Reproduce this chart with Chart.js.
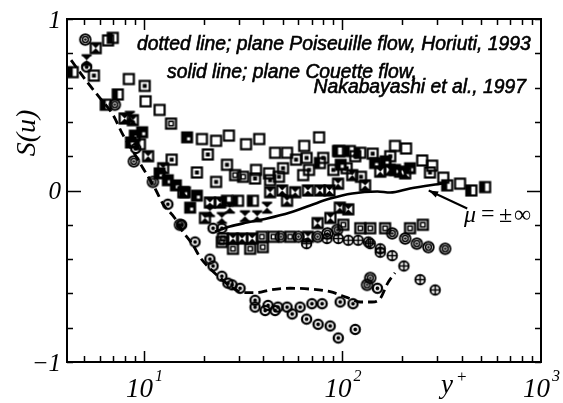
<!DOCTYPE html>
<html>
<head>
<meta charset="utf-8">
<script src="https://cdn.jsdelivr.net/npm/chart.js@4"></script>
<style>
  html, body { margin: 0; padding: 0; background: #fff; }
  #c { display: block; }
</style>
</head>
<body>
<canvas id="c" width="563" height="403"></canvas>
<script>
// Skewness S(u) against y+ for several rotation numbers, plus two reference DNS curves.

// Reference curves
const poiseuilleX = [4.3, 5.2, 6.0, 7.0, 7.8, 8.8, 9.9, 11.4, 12.5, 14.3, 15.5, 17.7, 19.2, 21.5, 24.2, 27.8, 31.6, 37.2, 43.2, 54.5, 68.8, 86.7, 106, 123, 141, 155, 169, 184];
const poiseuilleY = [0.76, 0.63, 0.54, 0.44, 0.33, 0.23, 0.13, 0.01, -0.08, -0.16, -0.23, -0.32, -0.39, -0.455, -0.51, -0.565, -0.595, -0.595, -0.58, -0.57, -0.575, -0.59, -0.625, -0.65, -0.65, -0.63, -0.54, -0.48];
const couetteX = [22.8, 27.1, 33, 41.7, 54.5, 68.8, 86.7, 112, 150, 174, 219, 320];
const couetteY = [-0.24, -0.21, -0.187, -0.163, -0.128, -0.087, -0.047, -0.017, -0.006, -0.012, 0.012, 0.041];

// Measured series, [y+, S(u)]
const openSquare = [[6.6,0.875],[8.4,0.65],[10.2,0.52],[12.0,0.47],[19.6,0.30],[23.1,0.29],[26.8,0.32],[32.7,0.27],[38.1,0.30],[45.8,0.22],[52.6,0.22],[64.2,0.26],[76.3,0.31],[96.3,0.23],[36.7,0.12],[42.7,0.10],[63.4,0.09],[184,0.26],[209,0.245],[252,0.175],[283,0.145],[322,0.075],[391,0.04]];
const dotSquare = [[5.6,0.67],[10.1,0.61],[13.8,0.18],[21.0,0.21],[18.5,0.105],[23.1,0.05],[26.2,0.15],[36.3,0.07],[43.2,0.06],[47.9,0.08],[50.2,0.13],[58.4,0.18],[66,0.19],[67.9,0.12],[80,0.19],[90,0.12],[105,0.13],[116,0.20],[124,0.08],[142,0.215],[174,0.20],[276,0.105]];
const halfSquare = [[4.38,0.69],[6.97,0.89],[7.39,0.56],[6.43,0.50],[9.55,0.27],[26.2,-0.06],[29.8,-0.06],[35.4,-0.06],[77,0.16],[95,0.23],[109,0.23],[123,0.22],[337,0.03],[446,0.0],[523,0.02]];
const solidSquare = [[16.5,0.31],[9.0,0.32],[9.8,0.34],[8.6,0.28],[12.0,0.10],[13.2,0.06],[14.5,0.03],[16.1,-0.01],[18.5,-0.03],[17.1,-0.10],[98,0.15],[146,0.16],[184,0.12],[219,0.13],[165,0.17]];
const bowtieSquare = [[5.72,0.83],[8.0,0.42],[8.8,0.41],[10.5,0.20],[12.5,0.13],[15.8,-0.01],[20.3,-0.16],[21.5,-0.07],[24.2,-0.07],[43.2,-0.01],[49.7,0.0],[52.6,-0.06],[57.8,-0.01],[67,0.0],[77,0.0],[86,0.0],[95,0.04],[112,0.09],[130,0.03],[155,0.11],[173,0.12],[195,0.11],[207,0.10],[97,-0.10],[107,-0.11],[87,-0.16],[75,-0.19],[28.1,-0.28],[31.2,-0.28],[35.1,-0.28],[67,-0.27]];
const hourglass = [[5.15,0.76],[8.5,0.43],[21.5,-0.12],[24.7,-0.16],[27.1,-0.10],[32.3,-0.15],[37.2,-0.15],[41.7,-0.10]];
const doubleSquare = [[13.7,0.39],[28.8,0.09],[31.6,0.08],[25.0,-0.28],[24.7,-0.30],[28.1,-0.34],[34.3,-0.34],[39.7,-0.33],[39.3,-0.27],[44.9,-0.27],[54.5,-0.27],[101,-0.20],[123,-0.22],[138,-0.22],[164,-0.22],[219,-0.22],[254,-0.20]];
const ringDouble = [[5.07,0.88],[7.14,0.50],[8.9,0.17],[11.1,0.05],[15.2,-0.20],[49,-0.27],[60,-0.27],[75,-0.27],[84,-0.25],[94,-0.23],[178,-0.25],[207,-0.28],[237,-0.31],[271,-0.33],[329,-0.34],[138,-0.51],[133,-0.55]];
const ringDot = [[5.15,0.72],[9.1,0.245],[13.2,-0.08],[15.5,-0.20],[18.1,-0.30],[21.5,-0.40],[22.3,-0.44],[24.7,-0.50],[26.5,-0.54],[27.8,-0.55],[30.5,-0.57],[36.3,-0.64],[36.3,-0.68],[40.8,-0.70],[42.2,-0.67],[45.8,-0.70],[47.3,-0.68],[52.6,-0.68],[55.8,-0.72],[61.2,-0.68],[70.2,-0.66],[79,-0.66],[97.4,-0.65],[113,-0.66],[66,-0.75],[75.4,-0.78],[86.7,-0.79],[95.3,-0.86],[116,-0.81],[150,-0.57],[22.3,-0.22],[24.7,-0.22]];
const ringPlus = [[66,-0.31],[83.6,-0.28],[95.3,-0.28],[107,-0.29],[120,-0.29],[135,-0.30],[138,-0.31],[155,-0.34],[155,-0.36],[178,-0.38],[204,-0.44],[246,-0.52],[293,-0.58]];

// Axis tick values
const xDecades = [10, 100, 1000];
const yTicks = [-1, -0.8, -0.6, -0.4, -0.2, 0, 0.2, 0.4, 0.6, 0.8, 1];
const yLabels = [[1, '1'], [0, '0'], [-1, '\u22121']];

// Pointer from the mu label to the Couette curve, in data units
const arrowFrom = [425, -0.105];
const arrowTo = [272, 0.0];

function marker(kind) {
  const s = 15, m = 7.5, h = 5;
  const c = document.createElement('canvas');
  c.width = c.height = s;
  const g = c.getContext('2d');
  g.strokeStyle = '#000'; g.fillStyle = '#000'; g.lineWidth = 2.2;
  const sq = () => g.strokeRect(m - h, m - h, 2 * h, 2 * h);
  const tri = () => {
    g.beginPath(); g.moveTo(m - h, m - h); g.lineTo(m + h, m - h); g.lineTo(m, m); g.closePath(); g.fill();
    g.beginPath(); g.moveTo(m - h, m + h); g.lineTo(m + h, m + h); g.lineTo(m, m); g.closePath(); g.fill();
  };
  const circ = (r, w) => { g.lineWidth = w; g.beginPath(); g.arc(m, m, r, 0, Math.PI * 2); g.stroke(); };
  const dot = r => { g.beginPath(); g.arc(m, m, r, 0, Math.PI * 2); g.fill(); };
  switch (kind) {
    case 'open': sq(); break;
    case 'dot': sq(); g.fillRect(m - 2, m - 2, 4, 4); break;
    case 'half': sq(); g.fillRect(m - h, m - h, h, 2 * h); break;
    case 'solid':
      g.fillRect(m - h - 1, m - h - 1, 2 * h + 2, 2 * h + 2);
      g.fillStyle = '#fff'; g.fillRect(m, m, 3, 3); break;
    case 'double': sq(); g.lineWidth = 1.6; g.strokeRect(m - 2.2, m - 2.2, 4.4, 4.4); break;
    case 'bowtie': sq(); tri(); break;
    case 'hourglass': tri(); g.lineWidth = 1.8;
      g.beginPath(); g.moveTo(m - h, m - h); g.lineTo(m + h, m - h); g.moveTo(m - h, m + h); g.lineTo(m + h, m + h); g.stroke(); break;
    case 'ring': circ(4.6, 2.3); dot(1.9); break;
    case 'ring2': circ(5.3, 1.9); circ(2.9, 1.5); dot(1.3); break;
    case 'plus': circ(4.8, 1.9); g.lineWidth = 1.6;
      g.beginPath(); g.moveTo(m - 4.8, m); g.lineTo(m + 4.8, m); g.moveTo(m, m - 4.8); g.lineTo(m, m + 4.8); g.stroke(); break;
  }
  return c;
}

const pts = arr => arr.map(([x, y]) => ({ x, y }));
const series = (data, kind) => ({
  data: pts(data), pointStyle: marker(kind), pointRadius: 6, showLine: false
});
const curve = (xs, ys, dash) => ({
  data: xs.map((x, i) => ({ x, y: ys[i] })), showLine: true, pointRadius: 0,
  borderColor: '#000', borderWidth: dash ? 2.8 : 2.6, borderDash: dash || [],
  cubicInterpolationMode: 'monotone', fill: false
});

// draws text with a hairline outline so it reads a little heavier
function heavyText(ctx, t, x, y, w) {
  ctx.fillText(t, x, y);
  ctx.lineWidth = w;
  ctx.strokeText(t, x, y);
}

const frame = {
  id: 'frame',
  afterDraw(chart) {
    const { ctx, chartArea: a, scales: { x, y } } = chart;
    ctx.save();
    ctx.strokeStyle = '#000';
    ctx.fillStyle = '#000';
    // box
    ctx.lineWidth = 2;
    ctx.strokeRect(a.left, a.top, a.right - a.left, a.bottom - a.top);
    // log ticks along top and bottom, pointing inwards
    ctx.lineWidth = 1.5;
    ctx.beginPath();
    for (let k = 0; k < 3; k++) {
      for (let mnt = 1; mnt <= 9; mnt++) {
        const v = mnt * Math.pow(10, k);
        if (v < x.min || v > x.max) continue;
        const px = Math.round(x.getPixelForValue(v)) + 0.5;
        const len = mnt === 1 ? 11 : 6;
        ctx.moveTo(px, a.bottom); ctx.lineTo(px, a.bottom - len);
        ctx.moveTo(px, a.top); ctx.lineTo(px, a.top + len);
      }
    }
    // linear ticks on the left and right sides
    yTicks.forEach(v => {
      const py = Math.round(y.getPixelForValue(v)) + 0.5;
      const len = v === 0 ? 14 : 6;
      ctx.moveTo(a.left, py); ctx.lineTo(a.left + len, py);
      ctx.moveTo(a.right, py); ctx.lineTo(a.right - len, py);
    });
    ctx.stroke();

    // y tick labels
    ctx.font = 'italic 25px "Liberation Serif"';
    ctx.textAlign = 'right';
    ctx.textBaseline = 'middle';
    yLabels.forEach(([v, t]) => ctx.fillText(t, a.left - 6, y.getPixelForValue(v) + 2));

    // x tick labels: 10 with superscript exponent
    ctx.textBaseline = 'alphabetic';
    xDecades.forEach(v => {
      const px = x.getPixelForValue(v);
      ctx.font = 'italic 27px "Liberation Serif"';
      ctx.textAlign = 'right';
      ctx.fillText('10', px + 9, a.bottom + 35);
      ctx.font = 'italic 16px "Liberation Serif"';
      ctx.textAlign = 'left';
      ctx.fillText(String(Math.round(Math.log10(v))), px + 11, a.bottom + 19);
    });

    // axis titles
    ctx.font = 'italic 27px "Liberation Serif"';
    ctx.textAlign = 'left';
    ctx.fillText('y', 441, a.bottom + 31);
    ctx.font = '17px "Liberation Serif"';
    ctx.fillText('+', 457, a.bottom + 20);

    ctx.save();
    ctx.translate(35, 133);
    ctx.rotate(-Math.PI / 2);
    ctx.font = 'italic 28px "Liberation Serif"';
    ctx.textAlign = 'center';
    ctx.fillText('S(u)', 0, 0);
    ctx.restore();

    // legend notes
    const line1 = 'dotted line; plane Poiseuille flow, Horiuti, 1993';
    ctx.font = 'italic 17px "Liberation Sans"';
    const fs = 17 * 394 / ctx.measureText(line1).width;
    ctx.font = `italic ${fs.toFixed(2)}px "Liberation Sans"`;
    ctx.textAlign = 'left';
    heavyText(ctx, line1, 137, 50, 0.6);
    heavyText(ctx, 'solid line; plane Couette flow,', 167, 78, 0.6);
    ctx.textAlign = 'right';
    heavyText(ctx, 'Nakabayashi et al., 1997', 526, 93, 0.6);

    // mu label and arrow
    ctx.textAlign = 'left';
    ctx.font = 'italic 24px "Liberation Serif"';
    ctx.fillText('\u03bc', 464, 222);
    ctx.font = '24px "Liberation Serif"';
    ctx.fillText('=', 481, 221);
    ctx.fillText('\u00b1', 499, 222);
    ctx.fillText('\u221e', 514, 222);

    const x0 = x.getPixelForValue(arrowFrom[0]), y0 = y.getPixelForValue(arrowFrom[1]);
    const x1 = x.getPixelForValue(arrowTo[0]), y1 = y.getPixelForValue(arrowTo[1]);
    ctx.lineWidth = 2;
    ctx.beginPath(); ctx.moveTo(x0, y0); ctx.lineTo(x1, y1); ctx.stroke();
    const ang = Math.atan2(y1 - y0, x1 - x0);
    ctx.beginPath();
    ctx.moveTo(x1, y1);
    ctx.lineTo(x1 - 10 * Math.cos(ang - 0.35), y1 - 10 * Math.sin(ang - 0.35));
    ctx.lineTo(x1 - 10 * Math.cos(ang + 0.35), y1 - 10 * Math.sin(ang + 0.35));
    ctx.closePath(); ctx.fill();
    ctx.restore();
  }
};

new Chart(document.getElementById('c'), {
  type: 'scatter',
  data: {
    datasets: [
      curve(couetteX, couetteY, null),
      curve(poiseuilleX, poiseuilleY, [9, 5]),
      series(ringPlus, 'plus'),
      series(ringDot, 'ring'),
      series(ringDouble, 'ring2'),
      series(doubleSquare, 'double'),
      series(hourglass, 'hourglass'),
      series(bowtieSquare, 'bowtie'),
      series(solidSquare, 'solid'),
      series(halfSquare, 'half'),
      series(dotSquare, 'dot'),
      series(openSquare, 'open')
    ]
  },
  options: {
    responsive: false,
    animation: false,
    devicePixelRatio: 1,
    layout: { padding: { left: 67, right: 22, top: 19, bottom: 41 } },
    plugins: { legend: { display: false }, tooltip: { enabled: false } },
    scales: {
      x: { type: 'logarithmic', min: 4.1, max: 1000, display: false },
      y: { type: 'linear', min: -1, max: 1, display: false }
    }
  },
  plugins: [frame]
});
</script>
</body>
</html>
